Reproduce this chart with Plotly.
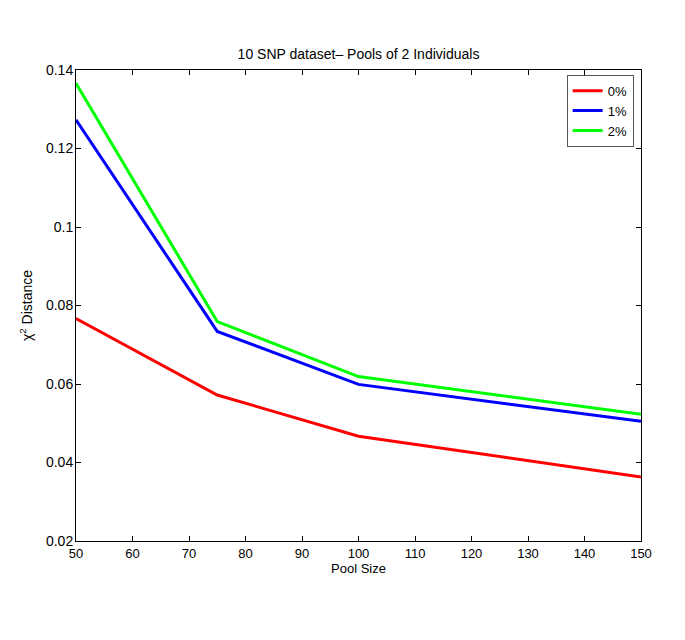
import plotly.graph_objects as go

pool_size = [50, 75, 100, 150]
err_0 = [0.0767, 0.0572, 0.0467, 0.0363]
err_1 = [0.1273, 0.0734, 0.0599, 0.0505]
err_2 = [0.1366, 0.0759, 0.0619, 0.0523]

series_names = ["0%", "1%", "2%"]
series_colors = ["#ff0000", "#0000ff", "#00ff00"]

x_ticks = [50, 60, 70, 80, 90, 100, 110, 120, 130, 140, 150]
y_ticks = [0.02, 0.04, 0.06, 0.08, 0.1, 0.12, 0.14]
y_tick_text = ["0.02", "0.04", "0.06", "0.08", "0.1", "0.12", "0.14"]

fig = go.Figure()
for name, color, vals in zip(series_names, series_colors, [err_0, err_1, err_2]):
    fig.add_trace(go.Scatter(x=pool_size, y=vals, mode="lines", name=name,
                             line=dict(color=color, width=3)))

font_family = "Liberation Sans, Arial, sans-serif"
fig.update_layout(
    width=685, height=640,
    margin=dict(l=68, r=52, t=62, b=107),
    paper_bgcolor="white", plot_bgcolor="white",
    font=dict(family=font_family, size=13, color="black"),
    title=dict(text="10 SNP dataset\u2013 Pools of 2 Individuals", x=0.5, xref="paper",
               xanchor="center",
               y=1, yref="paper", yanchor="bottom", pad=dict(b=11),
               font=dict(size=14, family=font_family, color="black")),
    showlegend=True,
    legend=dict(x=0.987, y=0.99, xanchor="right", yanchor="top",
                bgcolor="white", bordercolor="#555555", borderwidth=1,
                font=dict(size=13), tracegroupgap=0, itemwidth=30),
)
fig.update_xaxes(range=[50, 150], tickvals=x_ticks, ticks="inside", ticklen=5,
                 tickfont=dict(size=13),
                 showline=True, linecolor="black", linewidth=1, mirror="ticks",
                 showgrid=False, zeroline=False, tickcolor="black",
                 title=dict(text="Pool Size", font=dict(size=13), standoff=4))
fig.update_yaxes(range=[0.02, 0.14], tickvals=y_ticks, ticktext=y_tick_text,
                 ticks="inside", ticklen=5, tickfont=dict(size=14),
                 ticklabelstandoff=-1,
                 showline=True, linecolor="black", linewidth=1, mirror="ticks",
                 showgrid=False, zeroline=False, tickcolor="black",
                 title=dict(text="\u03c7<sup>2</sup> Distance", font=dict(size=14), standoff=10))

fig.write_html("out.html")
